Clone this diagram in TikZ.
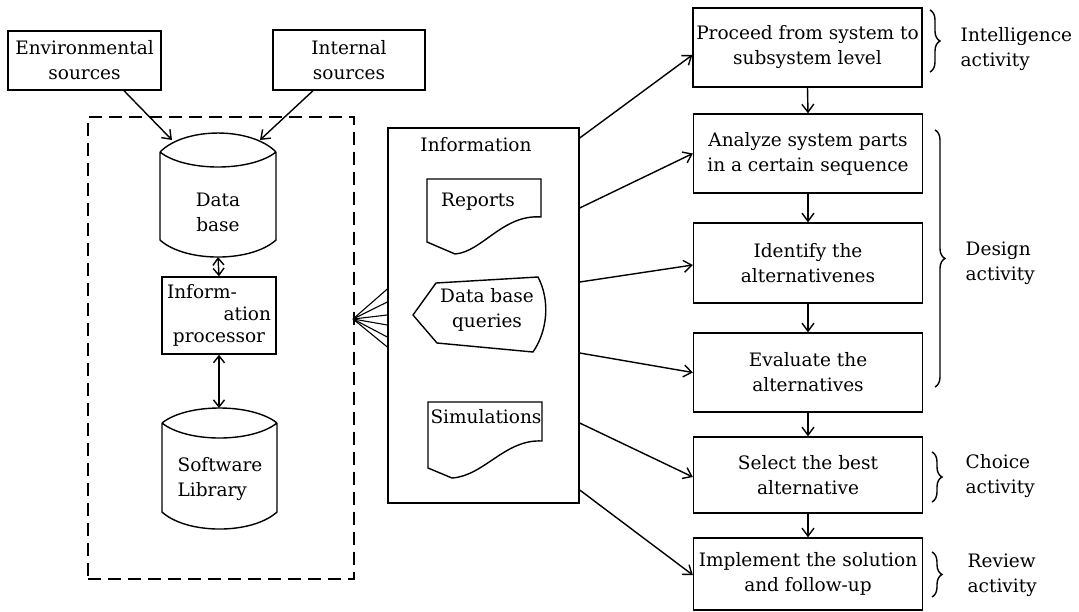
\documentclass[tikz,border=0pt]{standalone}
\usepackage{fontspec}
\setmainfont{DejaVu Serif}
\usetikzlibrary{arrows.meta,decorations.pathreplacing,calc}
\begin{document}
\begin{tikzpicture}[x=1pt,y=-1pt,
  line width=1.4pt,
  every node/.style={font=\fontsize{18.5}{25}\selectfont},
  box/.style={draw, inner sep=0pt, align=center},
  rb/.style={box, minimum width=229pt},
  txt/.style={inner sep=0pt, align=center},
  arr/.style={-{Straight Barb[length=8pt,width=12pt]}},
  dbl/.style={{Straight Barb[length=7pt,width=11pt]}-{Straight Barb[length=7pt,width=11pt]}},
  brc/.style={decorate, decoration={brace, amplitude=10pt}},
  lbl/.style={inner sep=0pt, anchor=west, align=left},
]
\useasboundingbox (0,0) rectangle (1079,611);

% sources
\node[box, minimum width=153pt, minimum height=59pt] (env) at (84.5,60.5) {Environmental\\sources};
\node[box, minimum width=152pt, minimum height=60pt] (int) at (349,60) {Internal\\sources};

% dashed system boundary
\node[draw, dash pattern=on 13pt off 7pt, minimum width=266pt, minimum height=462pt, inner sep=0pt] (sys) at (221,348) {};

% data base cylinder
\draw (160,152) .. controls (185,126.7) and (251,126.7) .. (276,152)
      (160,152) .. controls (185,172) and (251,172) .. (276,152)
      (160,152) -- (160,240) .. controls (185,262.7) and (251,262.7) .. (276,240) -- (276,152);
\node[txt] (db) at (218,212.5) {Data\\base};
\coordinate (dbin1) at (172,140);
\coordinate (dbin2) at (260,140);
\coordinate (dbb) at (218,257);

% information processor
\node[box, minimum width=114pt, minimum height=77pt] (proc) at (219,315.5) {};
\node[inner sep=0pt, font=\fontsize{18.5}{22}\selectfont] (proct) at (219,315.5)
  {\parbox{104pt}{Inform-\\\hspace*{\fill}ation\\\hspace*{\fill}processor\hspace*{\fill}}};

% software library cylinder
\draw (162,423) .. controls (187,403) and (252,403) .. (277,423)
      (162,423) .. controls (187,443) and (252,443) .. (277,423)
      (162,423) -- (162,512) .. controls (187,534.7) and (252,534.7) .. (277,512) -- (277,423);
\node[txt, align=left] (sl) at (220,479) {Software\\Library};
\coordinate (slt) at (219,408);

% connectors in left part
\draw[arr] ($(env.south)+(39.5,0)$) -- (dbin1);
\draw[arr] ($(int.south)+(-36,0)$) -- (dbin2);
\draw[dbl] (dbb) -- (proc.north);
\draw[dbl] (proc.south) -- (slt);

% information box
\node[draw, minimum width=191pt, minimum height=375pt, inner sep=0pt] (info) at (483.5,315.5) {};
\node[txt] (infol) at (476,145) {Information};

% fan
\coordinate (fanpt) at (353,319);
\foreach \yy in {289,302,315,325,337,347}
  \draw[line width=1.1pt] (fanpt) -- ($(info.west)+(0,\yy-315.5)$);

% reports
\draw (427,179) -- (541,179) -- (541,217) .. controls (503,214) and (482,252) .. (455,254) -- (427,242) -- cycle;
\node[txt] (rep) at (478,202) {Reports};
% data base queries
\draw (413,315) -- (436,283) -- (538,277) .. controls (550,300) and (548,330) .. (533,352) -- (437,343) -- cycle;
\node[txt] (dbq) at (487,310) {Data base\\queries};
% simulations
\draw (428,402) -- (542,402) -- (542,441) .. controls (505,439) and (484,476) .. (452,478) -- (428,468) -- cycle;
\node[txt] (sim) at (486,417) {Simulations};

% right column
\node[rb, minimum height=79pt] (b1) at (807.5,47.5) {Proceed from system to\\subsystem level};
\node[rb, minimum height=79pt] (b2) at (808,153.5) {Analyze system parts\\in a certain sequence};
\node[rb, minimum height=80pt] (b3) at (808,263) {Identify the\\alternativenes};
\node[rb, minimum height=79pt] (b4) at (808,372.5) {Evaluate the\\alternatives};
\node[rb, minimum height=76pt] (b5) at (808,475) {Select the best\\alternative};
\node[rb, minimum height=72pt] (b6) at (808,574) {Implement the solution\\and follow-up};

\draw[arr] (b1.south) -- (b2.north);
\draw[arr] (b2.south) -- (b3.north);
\draw[arr] (b3.south) -- (b4.north);
\draw[arr] (b4.south) -- (b5.north);
\draw[arr] (b5.south) -- (b6.north);

% info to steps
\draw[arr] ($(info.east)+(0,138-315.5)$) -- ($(b1.west)+(0,7.5)$);
\draw[arr] ($(info.east)+(0,208-315.5)$) -- (b2.west);
\draw[arr] ($(info.east)+(0,282-315.5)$) -- ($(b3.west)+(0,2)$);
\draw[arr] ($(info.east)+(0,353-315.5)$) -- (b4.west);
\draw[arr] ($(info.east)+(0,423-315.5)$) -- ($(b5.west)+(0,2)$);
\draw[arr] ($(info.east)+(0,490-315.5)$) -- ($(b6.west)+(0,1)$);

% braces and labels
\draw[brc] (930,10) -- (930,72);
\node[lbl] (l1) at (960,49.5) {Intelligence\\activity};
\draw[brc] (935,130) -- (935,387);
\node[lbl] (l2) at (965,263.5) {Design\\activity};
\draw[brc] (932,452) -- (932,502);
\node[lbl] (l3) at (965,476) {Choice\\activity};
\draw[brc] (932,552) -- (932,597);
\node[lbl] (l4) at (967,575.5) {Review\\activity};
\end{tikzpicture}
\end{document}
